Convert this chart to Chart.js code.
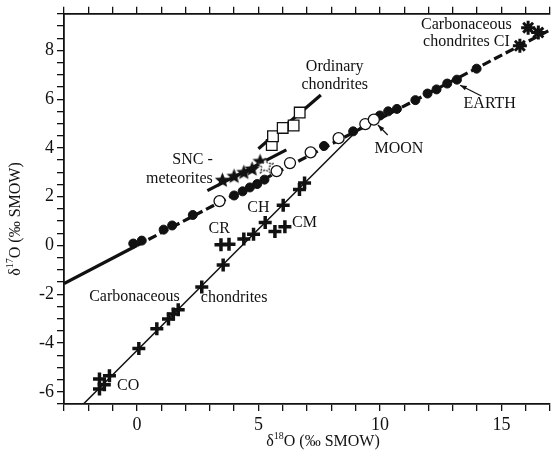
<!DOCTYPE html>
<html>
<head>
<meta charset="utf-8">
<script src="https://cdn.jsdelivr.net/npm/chart.js@4.4.0/dist/chart.umd.min.js"></script>
<style>
  html, body { margin: 0; padding: 0; background: #fff; overflow: hidden; }
  #wrap { width: 560px; height: 458px; }
</style>
</head>
<body>
<div id="wrap"><canvas id="oxyChart" width="560" height="458"></canvas></div>
<script>
// Terrestrial fractionation line samples (filled = Earth, open = Moon)
const earthX = [-0.15, 0.2, 1.1, 1.45, 2.3, 4.0, 4.35, 4.65, 4.95, 5.25, 7.7, 8.9, 10.0, 10.34, 10.7, 11.46, 11.96, 12.33, 12.77, 13.17, 13.98];
const earthY = [0.08, 0.2, 0.65, 0.82, 1.25, 2.05, 2.22, 2.38, 2.52, 2.7, 4.08, 4.68, 5.33, 5.5, 5.6, 5.96, 6.23, 6.4, 6.64, 6.8, 7.25];
const moonX = [3.4, 5.75, 6.3, 7.15, 8.3, 9.4, 9.75];
const moonY = [1.82, 3.05, 3.38, 3.82, 4.4, 4.98, 5.16];

// CI chondrites
const ciX = [16.1, 16.52, 15.76];
const ciY = [8.93, 8.73, 8.19];

// SNC meteorites
const sncX = [3.52, 4.0, 4.4, 4.74, 5.07];
const sncY = [2.7, 2.86, 3.02, 3.16, 3.47];
const sncOpenX = [5.28];
const sncOpenY = [3.29];

// Ordinary chondrites
const ocX = [5.55, 5.6, 6.0, 6.45, 6.7];
const ocY = [4.12, 4.48, 4.82, 4.92, 5.45];

// Carbonaceous chondrites (CO ... CH), CR, CM
const ccX = [-1.54, -1.13, -1.54, -1.34, 0.08, 0.82, 1.3, 1.5, 1.7, 2.67, 3.55, 4.4, 4.8, 5.28, 6.02, 6.69, 6.9];
const ccY = [-5.48, -5.34, -5.88, -5.71, -4.22, -3.41, -3.01, -2.81, -2.64, -1.7, -0.8, 0.27, 0.46, 0.94, 1.65, 2.3, 2.56];
const crX = [3.46, 3.79];
const crY = [0.03, 0.05];
const cmX = [5.68, 6.09];
const cmY = [0.57, 0.77];

// reference lines (end points)
const tflSolidX = [-3, 0];
const tflSolidY = [-1.56, 0];
const tflDashX = [0, 17];
const tflDashY = [0, 8.84];
const sncLineX = [2.9, 6.15];
const sncLineY = [2.25, 3.92];
const ocLineX = [5.0, 7.57];
const ocLineY = [3.97, 6.17];
const ccamX = [-2.2, 9.65];
const ccamY = [-6.5, 5.3];

const xTickLabels = [0, 5, 10, 15];
const yTickLabels = [-6, -4, -2, 0, 2, 4, 6, 8];

const pts = (xs, ys) => xs.map((x, i) => ({ x: x, y: ys[i] }));
const INK = '#111';
const SERIF = '"Liberation Serif", "DejaVu Serif", serif';

// five-pointed star marker
function makeStar(size, open) {
    const c = document.createElement('canvas');
    c.width = c.height = size;
    const g = c.getContext('2d');
    const cx = size / 2, cy = size / 2 + 0.8, R = size / 2 - 0.5, r = R * 0.45;
    g.beginPath();
    for (let i = 0; i < 10; i++) {
        const a = -Math.PI / 2 + i * Math.PI / 5;
        const rr = i % 2 ? r : R;
        g.lineTo(cx + rr * Math.cos(a), cy + rr * Math.sin(a));
    }
    g.closePath();
    if (open) {
        g.fillStyle = '#fff';
        g.fill();
        g.setLineDash([2, 1.5]);
        g.lineWidth = 1.2;
        g.strokeStyle = INK;
        g.stroke();
    } else {
        g.fillStyle = INK;
        g.fill();
    }
    return c;
}
const starFilled = makeStar(17, false);
const starOpen = makeStar(17, true);

const lineSet = (xs, ys, width, dash) => ({
    data: pts(xs, ys),
    showLine: true,
    borderColor: INK,
    borderWidth: width,
    borderDash: dash || [],
    pointRadius: 0,
    order: 10
});

// text labels placed in data units
const notes = [
    ['Carbonaceous', 13.56, 9.03, 'center'],
    ['chondrites CI', 13.56, 8.34, 'center'],
    ['Ordinary', 8.14, 7.33, 'center'],
    ['chondrites', 8.14, 6.6, 'center'],
    ['SNC -', 3.12, 3.52, 'right'],
    ['meteorites', 3.12, 2.75, 'right'],
    ['MOON', 10.78, 3.97, 'center'],
    ['EARTH', 14.52, 5.83, 'center'],
    ['CR', 3.39, 0.69, 'center'],
    ['CH', 5.0, 1.54, 'center'],
    ['CM', 6.9, 0.94, 'center'],
    ['Carbonaceous', -0.1, -2.1, 'center'],
    ['chondrites', 4.0, -2.13, 'center'],
    ['CO', -0.36, -5.75, 'center']
];
const arrows = [
    [10.32, 4.53, 9.92, 4.94],
    [14.18, 6.13, 13.3, 6.57]
];

function drawSup(ctx, x, y, sup) {
    // draws "δ<sup>O (‰ SMOW)" starting at x, baseline y
    ctx.font = '16px ' + SERIF;
    ctx.fillText('δ', x, y);
    x += ctx.measureText('δ').width;
    ctx.font = '10px ' + SERIF;
    ctx.fillText(sup, x, y - 7);
    x += ctx.measureText(sup).width;
    ctx.font = '16px ' + SERIF;
    ctx.fillText('O (‰ SMOW)', x, y);
}
function supWidth(ctx, sup) {
    ctx.font = '16px ' + SERIF;
    let w = ctx.measureText('δ').width + ctx.measureText('O (‰ SMOW)').width;
    ctx.font = '10px ' + SERIF;
    return w + ctx.measureText(sup).width;
}

const annotations = {
    id: 'annotations',
    afterDraw(chart) {
        const ctx = chart.ctx;
        const sx = chart.scales.x, sy = chart.scales.y;
        ctx.save();
        ctx.fillStyle = INK;
        ctx.strokeStyle = INK;
        ctx.font = '16px ' + SERIF;
        ctx.textBaseline = 'middle';
        notes.forEach(n => {
            ctx.textAlign = n[3];
            ctx.fillText(n[0], sx.getPixelForValue(n[1]), sy.getPixelForValue(n[2]));
        });
        arrows.forEach(a => {
            const x0 = sx.getPixelForValue(a[0]), y0 = sy.getPixelForValue(a[1]);
            const x1 = sx.getPixelForValue(a[2]), y1 = sy.getPixelForValue(a[3]);
            const ang = Math.atan2(y1 - y0, x1 - x0);
            ctx.lineWidth = 1.2;
            ctx.beginPath();
            ctx.moveTo(x0, y0);
            ctx.lineTo(x1, y1);
            ctx.stroke();
            ctx.beginPath();
            ctx.moveTo(x1, y1);
            ctx.lineTo(x1 - 7 * Math.cos(ang - 0.35), y1 - 7 * Math.sin(ang - 0.35));
            ctx.lineTo(x1 - 7 * Math.cos(ang + 0.35), y1 - 7 * Math.sin(ang + 0.35));
            ctx.closePath();
            ctx.fill();
        });
        // axis titles
        ctx.textAlign = 'left';
        ctx.textBaseline = 'alphabetic';
        const wx = supWidth(ctx, '18');
        drawSup(ctx, 323 - wx / 2, 446, '18');
        ctx.translate(20, 219);
        ctx.rotate(-Math.PI / 2);
        const wy = supWidth(ctx, '17');
        drawSup(ctx, -wy / 2, 0, '17');
        ctx.restore();
    }
};

new Chart(document.getElementById('oxyChart').getContext('2d'), {
    type: 'scatter',
    data: {
        datasets: [
            { data: pts(sncOpenX, sncOpenY), pointStyle: starOpen, pointRadius: 8, order: 1 },
            { data: pts(sncX, sncY), pointStyle: starFilled, pointRadius: 8, order: 1 },
            { data: pts(ocX, ocY), pointStyle: 'rect', pointRadius: 7.5, backgroundColor: '#fff', borderColor: INK, borderWidth: 1.3, order: 1 },
            { data: pts(ciX, ciY), pointStyle: 'star', pointRadius: 7, borderColor: INK, borderWidth: 3, order: 1 },
            { data: pts(moonX, moonY), pointStyle: 'circle', pointRadius: 5.5, backgroundColor: '#fff', borderColor: INK, borderWidth: 1.3, order: 1 },
            { data: pts(earthX, earthY), pointStyle: 'circle', pointRadius: 4.5, backgroundColor: INK, borderColor: INK, borderWidth: 1, order: 1 },
            { data: pts(ccX, ccY), pointStyle: 'cross', pointRadius: 6.5, borderColor: INK, borderWidth: 3.5, order: 1 },
            { data: pts(crX, crY), pointStyle: 'cross', pointRadius: 6.5, borderColor: INK, borderWidth: 3.5, order: 1 },
            { data: pts(cmX, cmY), pointStyle: 'cross', pointRadius: 6.5, borderColor: INK, borderWidth: 3.5, order: 1 },
            lineSet(tflSolidX, tflSolidY, 3.2),
            lineSet(tflDashX, tflDashY, 3.2, [9, 4]),
            lineSet(sncLineX, sncLineY, 3.2),
            lineSet(ocLineX, ocLineY, 3.2),
            lineSet(ccamX, ccamY, 1.5)
        ]
    },
    options: {
        responsive: false,
        animation: false,
        events: [],
        layout: { padding: { top: 0, right: 1, left: 0, bottom: 0 } },
        plugins: { legend: { display: false }, tooltip: { enabled: false } },
        scales: {
            x: {
                type: 'linear', position: 'bottom', min: -3, max: 17,
                afterFit: s => { s.height = 54; },
                ticks: {
                    stepSize: 1, autoSkip: false, maxRotation: 0, padding: 3,
                    color: INK, font: { family: SERIF, size: 18 },
                    callback: v => xTickLabels.includes(v) ? String(v) : ''
                },
                grid: { drawOnChartArea: false, drawTicks: true, tickLength: 7, color: INK, lineWidth: 1.3 },
                border: { display: true, color: INK, width: 1.8 }
            },
            x2: {
                type: 'linear', position: 'top', min: -3, max: 17,
                afterFit: s => { s.height = 8; },
                ticks: { stepSize: 1, autoSkip: false, maxRotation: 0, padding: 0, font: { size: 1 }, callback: () => '' },
                grid: { drawOnChartArea: false, drawTicks: true, tickLength: 7, color: INK, lineWidth: 1.3 },
                border: { display: true, color: INK, width: 1.8 }
            },
            y: {
                type: 'linear', min: -6.5, max: 9.5,
                afterFit: s => { s.width = 64; },
                ticks: {
                    stepSize: 0.5, autoSkip: false, padding: 3,
                    color: INK, font: { family: SERIF, size: 18 },
                    callback: v => yTickLabels.includes(v) ? String(v) : ''
                },
                grid: { drawOnChartArea: false, drawTicks: true, tickLength: 7, color: INK, lineWidth: 1.3 },
                border: { display: true, color: INK, width: 1.8 }
            }
        }
    },
    plugins: [annotations]
});
</script>
</body>
</html>
